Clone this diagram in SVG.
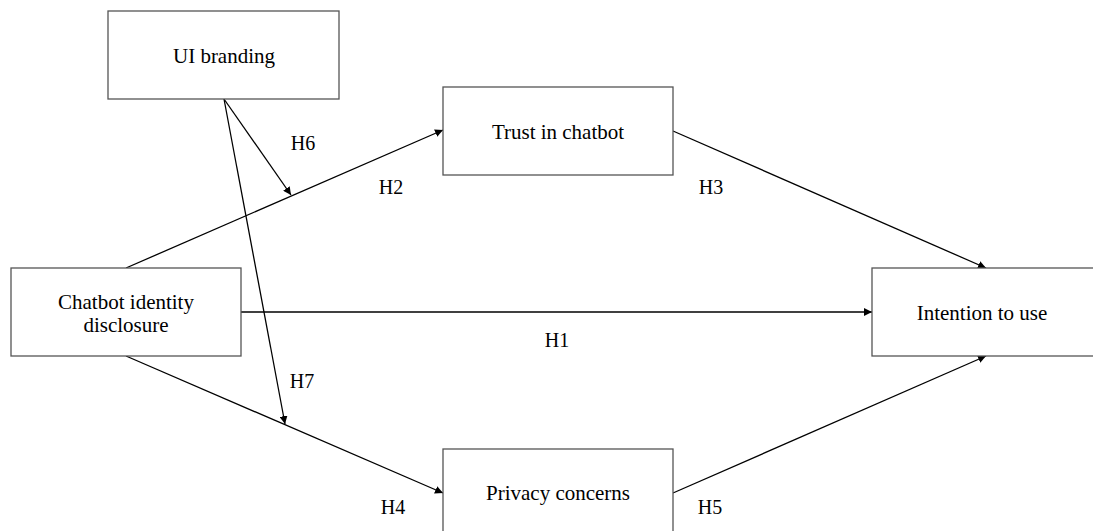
<svg xmlns="http://www.w3.org/2000/svg" width="1093" height="531" viewBox="0 0 1093 531">
<style>
.box{fill:#fff;stroke:#555;stroke-width:1.3}
.t{font-family:"Liberation Serif",serif;font-size:21px;fill:#000;text-anchor:middle}
.l{font-family:"Liberation Serif",serif;font-size:20px;fill:#000;text-anchor:middle}
.c{stroke:#000;stroke-width:1.3;fill:none;marker-end:url(#ah)}
</style>
<defs>
<marker id="ah" viewBox="0 0 10 10" refX="10" refY="5" markerWidth="8" markerHeight="8" markerUnits="userSpaceOnUse" orient="auto">
<path d="M0,0 L10,5 L0,10 z" fill="#000"/>
</marker>
</defs>
<rect width="1093" height="531" fill="#fff"/>
<g id="connectors">
<line class="c" x1="126" y1="268" x2="443" y2="130"/>
<line class="c" x1="673" y1="131" x2="986" y2="268"/>
<line class="c" x1="241" y1="312" x2="872" y2="312"/>
<line class="c" x1="126" y1="356" x2="443" y2="493"/>
<line class="c" x1="673" y1="493" x2="986" y2="356"/>
<line class="c" x1="224" y1="99" x2="291" y2="195"/>
<line class="c" x1="224" y1="99" x2="285" y2="424"/>
<text class="l" x="303" y="150">H6</text>
<text class="l" x="391" y="194">H2</text>
<text class="l" x="711" y="194">H3</text>
<text class="l" x="557" y="347">H1</text>
<text class="l" x="302" y="388">H7</text>
<text class="l" x="393" y="514">H4</text>
<text class="l" x="710" y="514">H5</text>
</g>
<g id="ui-branding">
<rect class="box" x="108" y="11" width="231" height="88"/>
<text class="t" x="224" y="63">UI branding</text>
</g>
<g id="chatbot-identity">
<rect class="box" x="11" y="268" width="230" height="88"/>
<text class="t" x="126" y="309">Chatbot identity</text>
<text class="t" x="126" y="332">disclosure</text>
</g>
<g id="trust">
<rect class="box" x="443" y="87" width="230" height="88"/>
<text class="t" x="558" y="139">Trust in chatbot</text>
</g>
<g id="intention">
<rect class="box" x="872" y="268" width="222" height="88"/>
<text class="t" x="982" y="320">Intention to use</text>
</g>
<g id="privacy">
<rect class="box" x="443" y="449" width="230" height="88"/>
<text class="t" x="558" y="500">Privacy concerns</text>
</g>
</svg>
